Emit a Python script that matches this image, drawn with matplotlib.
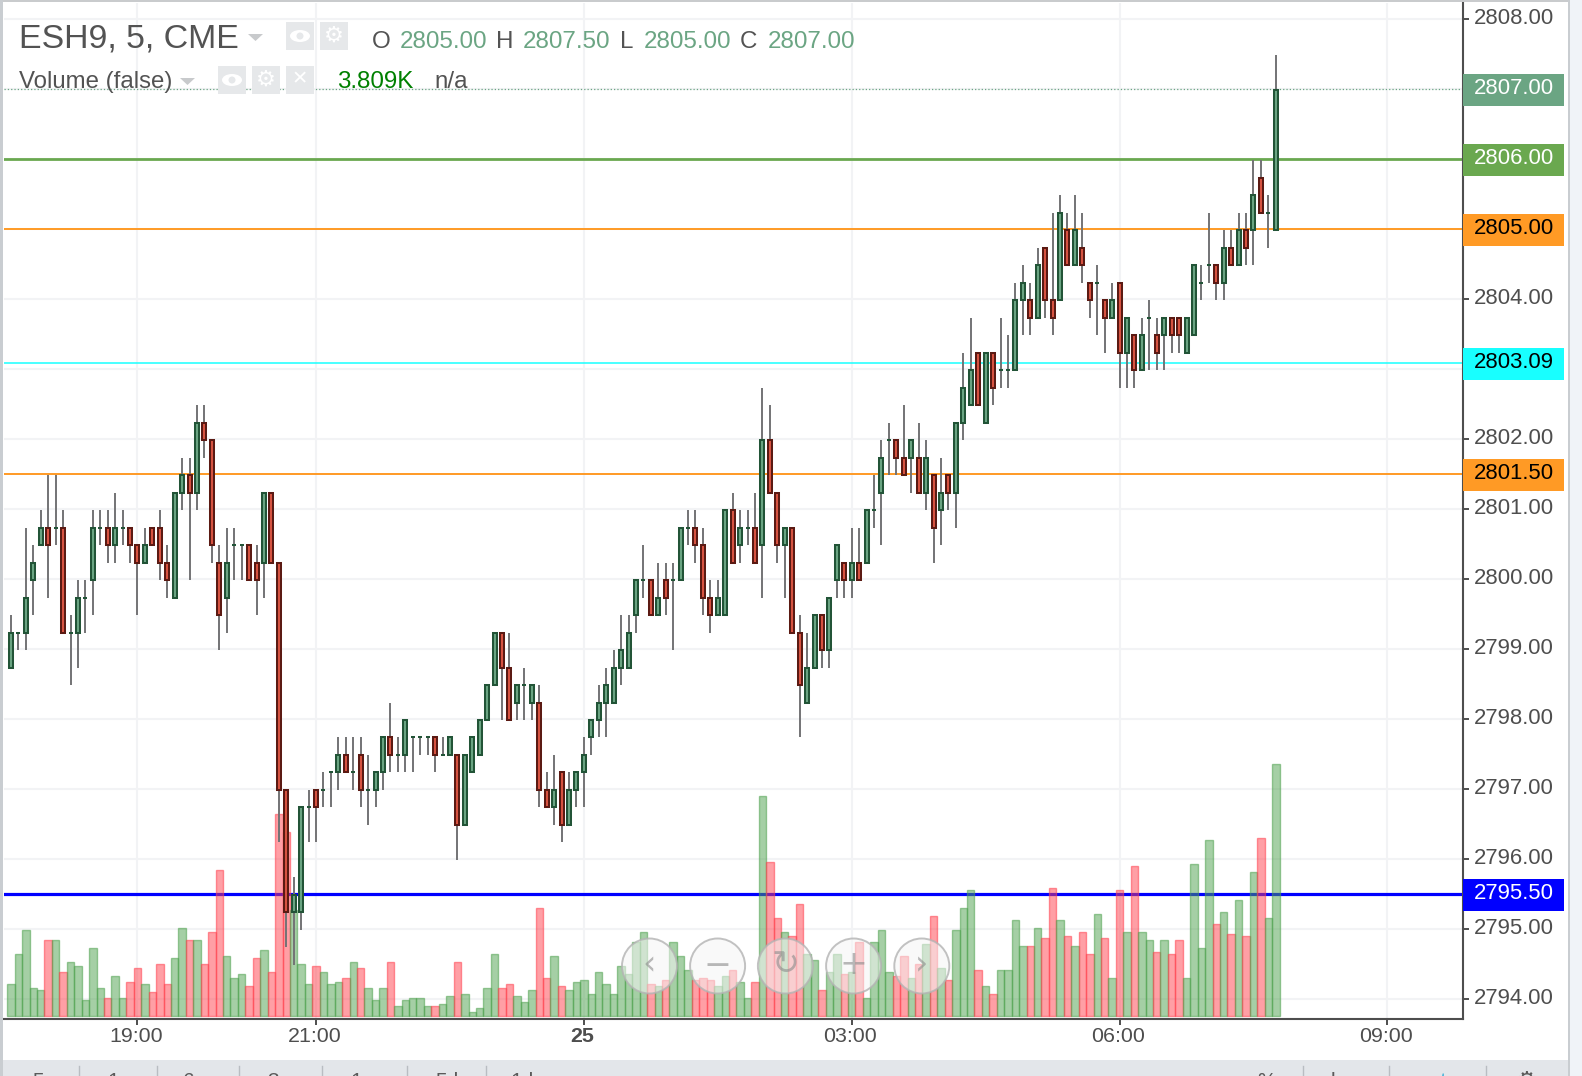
import matplotlib
matplotlib.use("Agg")
import matplotlib.pyplot as plt
from matplotlib.patches import Rectangle, Circle, Polygon, Ellipse
from matplotlib.transforms import ScaledTranslation

plt.rcParams["font.family"] = ["Liberation Sans", "DejaVu Sans"]

##data##

opens = [
    2798.75, 2799.25, 2799.25, 2800, 2800.5, 2800.75, 2800.75, 2800.75, 2799.25, 2799.25,
    2799.75, 2800, 2800.75, 2800.75, 2800.5, 2800.75, 2800.75, 2800.5, 2800.25, 2800.75,
    2800.75, 2800.25, 2799.75, 2801.25, 2801.5, 2801.25, 2802.25, 2802, 2800.25, 2799.75,
    2800.5, 2800.5, 2800.5, 2800.25, 2800.25, 2801.25, 2800.25, 2797, 2795.25, 2795.25,
    2796.75, 2797, 2797, 2797.25, 2797.25, 2797.5, 2797.25, 2797.5, 2797, 2797,
    2797.25, 2797.75, 2797.5, 2797.5, 2797.75, 2797.75, 2797.75, 2797.75, 2797.5, 2797.5,
    2797.5, 2796.5, 2797.25, 2797.5, 2798, 2798.5, 2799.25, 2798.75, 2798.25, 2798.5,
    2798.25, 2798.25, 2797, 2796.75, 2797.25, 2796.5, 2797, 2797.25, 2797.75, 2798,
    2798.25, 2798.25, 2798.75, 2798.75, 2799.5, 2800, 2800, 2799.5, 2800, 2800,
    2800, 2800.75, 2800.75, 2800.5, 2799.75, 2799.5, 2799.5, 2801, 2800.5, 2800.75,
    2800.75, 2800.5, 2802, 2801.25, 2800.5, 2800.75, 2799.25, 2798.25, 2798.75, 2799.5,
    2799, 2800, 2800.25, 2800, 2800.25, 2800.25, 2801, 2801.25, 2802, 2802,
    2801.75, 2801.75, 2801.75, 2801.25, 2801.5, 2801, 2801.5, 2801.25, 2802.25, 2802.5,
    2803.25, 2802.25, 2803.25, 2803, 2803, 2803, 2804, 2804, 2803.75, 2804.75,
    2804, 2804, 2805, 2804.5, 2804.75, 2804.25, 2804.25, 2804, 2803.75, 2804.25,
    2803.25, 2803.5, 2803, 2803.75, 2803.5, 2803.5, 2803.75, 2803.75, 2803.25, 2803.5,
    2804.25, 2804.5, 2804.5, 2804.25, 2804.75, 2804.5, 2805, 2805, 2805.75, 2805.25, 2805,
]
closes = [
    2799.25, 2799.25, 2799.75, 2800.25, 2800.75, 2800.5, 2800.75, 2799.25, 2799.25, 2799.75,
    2799.75, 2800.75, 2800.75, 2800.5, 2800.75, 2800.75, 2800.5, 2800.25, 2800.5, 2800.5,
    2800.25, 2800, 2801.25, 2801.5, 2801.25, 2802.25, 2802, 2800.5, 2799.5, 2800.25,
    2800.5, 2800.5, 2800, 2800, 2801.25, 2800.25, 2797, 2795.25, 2795.5, 2796.75,
    2796.75, 2796.75, 2797, 2797.25, 2797.5, 2797.25, 2797.25, 2797, 2797, 2797.25,
    2797.75, 2797.5, 2797.5, 2798, 2797.75, 2797.75, 2797.75, 2797.5, 2797.5, 2797.75,
    2796.5, 2797.5, 2797.75, 2798, 2798.5, 2799.25, 2798.75, 2798, 2798.5, 2798.5,
    2798.5, 2797, 2796.75, 2797, 2796.5, 2797, 2797.25, 2797.5, 2798, 2798.25,
    2798.5, 2798.75, 2799, 2799.25, 2800, 2800, 2799.5, 2799.75, 2799.75, 2800,
    2800.75, 2800.75, 2800.5, 2799.75, 2799.5, 2799.75, 2801, 2800.25, 2800.75, 2800.75,
    2800.25, 2802, 2801.25, 2800.5, 2800.75, 2799.25, 2798.5, 2798.75, 2799.5, 2799,
    2799.75, 2800.5, 2800, 2800.25, 2800, 2801, 2801, 2801.75, 2802, 2801.75,
    2801.5, 2802, 2801.25, 2801.75, 2800.75, 2801.25, 2801.25, 2802.25, 2802.75, 2803,
    2802.5, 2803.25, 2802.75, 2803, 2803, 2804, 2804.25, 2803.75, 2804.5, 2804,
    2803.75, 2805.25, 2804.5, 2805, 2804.5, 2804, 2804.25, 2803.75, 2804, 2803.25,
    2803.75, 2803, 2803.5, 2803.75, 2803.25, 2803.75, 2803.5, 2803.5, 2803.75, 2804.5,
    2804.25, 2804.5, 2804.25, 2804.75, 2804.5, 2805, 2804.75, 2805.5, 2805.25, 2805.25, 2807,
]
highs = [
    2799.5, 2799.25, 2800.75, 2800.5, 2801, 2801.5, 2801.5, 2801, 2799.5, 2800,
    2800, 2801, 2801, 2801, 2801.25, 2801, 2800.75, 2800.5, 2800.75, 2800.75,
    2801, 2800.5, 2801.25, 2801.75, 2801.75, 2802.5, 2802.5, 2802, 2800.5, 2800.75,
    2800.75, 2800.5, 2800.5, 2800.5, 2801.25, 2801.25, 2800.25, 2797, 2795.75, 2796.75,
    2797, 2797, 2797.25, 2797.25, 2797.75, 2797.75, 2797.75, 2797.75, 2797.5, 2797.25,
    2797.75, 2798.25, 2797.75, 2798, 2797.75, 2797.75, 2797.75, 2797.75, 2797.75, 2797.75,
    2797.5, 2797.5, 2797.75, 2798, 2798.5, 2799.25, 2799.25, 2799.25, 2798.5, 2798.75,
    2798.5, 2798.5, 2797.25, 2797.5, 2797.25, 2797.25, 2797.25, 2797.75, 2798, 2798.5,
    2798.75, 2799, 2799.5, 2799.5, 2800, 2800.5, 2800, 2800.25, 2800.25, 2800.25,
    2800.75, 2801, 2801, 2800.75, 2800, 2800, 2801, 2801.25, 2801, 2801,
    2801.25, 2802.75, 2802.5, 2801.25, 2800.75, 2800.75, 2799.5, 2799.25, 2799.5, 2799.5,
    2799.75, 2800.5, 2800.25, 2800.75, 2800.75, 2801, 2801.5, 2802, 2802.25, 2802,
    2802.5, 2802, 2802.25, 2802, 2801.5, 2801.75, 2801.5, 2802.25, 2803.25, 2803.75,
    2803.25, 2803.25, 2803.25, 2803.75, 2803.5, 2804.25, 2804.5, 2804.25, 2804.75, 2804.75,
    2805.25, 2805.5, 2805.25, 2805.5, 2805.25, 2804.25, 2804.5, 2804, 2804.25, 2804.25,
    2803.75, 2803.5, 2803.75, 2804, 2803.75, 2803.75, 2803.75, 2803.75, 2803.75, 2804.5,
    2804.5, 2805.25, 2804.5, 2805, 2805, 2805.25, 2805.25, 2806, 2806, 2805.5, 2807.5,
]
lows = [
    2798.75, 2799, 2799, 2799.5, 2800.5, 2799.75, 2800.5, 2799.25, 2798.5, 2798.75,
    2799.25, 2799.5, 2800.5, 2800.25, 2800.25, 2800.5, 2800.25, 2799.5, 2800.25, 2800.5,
    2800, 2799.75, 2799.75, 2801, 2800, 2801, 2801.75, 2800.25, 2799, 2799.25,
    2800, 2800, 2800, 2799.5, 2799.75, 2800.25, 2796.25, 2794.75, 2794.5, 2795,
    2796.25, 2796.25, 2796.75, 2796.75, 2797, 2797.25, 2797, 2796.75, 2796.5, 2796.75,
    2797, 2797.25, 2797.25, 2797.25, 2797.25, 2797.5, 2797.5, 2797.25, 2797.5, 2797.5,
    2796, 2796.5, 2797.25, 2797.5, 2798, 2798.5, 2798, 2798, 2798, 2798,
    2798, 2796.75, 2796.75, 2796.5, 2796.25, 2796.5, 2796.75, 2796.75, 2797.5, 2797.75,
    2797.75, 2798.25, 2798.5, 2798.75, 2799.25, 2799.75, 2799.5, 2799.5, 2799.5, 2799,
    2800, 2800.5, 2800.25, 2799.5, 2799.25, 2799.5, 2799.5, 2800.25, 2800.25, 2800.5,
    2800.25, 2799.75, 2801.25, 2800.25, 2799.75, 2799.25, 2797.75, 2798.25, 2798.75, 2798.75,
    2798.75, 2799.75, 2799.75, 2799.75, 2800, 2800.25, 2800.75, 2800.5, 2801.5, 2801.5,
    2801.5, 2801.25, 2801.25, 2801, 2800.25, 2800.5, 2801, 2800.75, 2802, 2802.5,
    2802.5, 2802.25, 2802.5, 2802.75, 2802.75, 2803, 2803.5, 2803.5, 2803.75, 2803.75,
    2803.5, 2804, 2804.5, 2804.5, 2804.25, 2803.75, 2803.5, 2803.25, 2803.75, 2802.75,
    2802.75, 2802.75, 2803, 2803, 2803, 2803, 2803.25, 2803.25, 2803.25, 2803.5,
    2804, 2804.25, 2804, 2804, 2804.5, 2804.5, 2804.5, 2804.5, 2805.25, 2804.75, 2805,
]
volumes = [
    479, 933, 1297, 419, 388, 1145, 1145, 661, 812, 752,
    237, 1024, 419, 267, 600, 267, 510, 721, 479, 358,
    782, 479, 873, 1327, 1145, 1145, 782, 1266, 2205, 903,
    570, 631, 449, 873, 994, 661, 3052, 2780, 1604, 782,
    479, 752, 661, 479, 510, 570, 812, 721, 419, 237,
    419, 812, 146, 237, 267, 267, 146, 146, 177, 298,
    812, 328, 55, 116, 419, 933, 419, 479, 298, 207,
    388, 1630, 570, 903, 449, 388, 510, 540, 328, 661,
    479, 328, 752, 631, 1115, 1266, 479, 449, 540, 1115,
    903, 691, 540, 570, 540, 449, 600, 691, 510, 267,
    510, 3325, 2326, 1478, 1266, 1206, 1690, 933, 843, 388,
    661, 933, 631, 661, 1115, 267, 1115, 1297, 661, 600,
    903, 570, 782, 1085, 1508, 721, 540, 1297, 1630, 1902,
    691, 449, 328, 691, 691, 1448, 1054, 1054, 1327, 1175,
    1932, 1448, 1206, 1054, 1266, 933, 1539, 1175, 570, 1902,
    1266, 2265, 1266, 1145, 964, 1145, 933, 1145, 570, 2295,
    1024, 2659, 1387, 1569, 1236, 1751, 1206, 2174, 2689, 1478, 3809,
]

price_ticks = list(range(2794, 2809))
hidden_ticks = [2803, 2805, 2806, 2807]
time_ticks = [17, 41, 77, 113, 149, 185]
time_labels = ["19:00", "21:00", "25", "03:00", "06:00", "09:00"]

level_prices = [2806, 2805, 2803.09, 2801.5, 2795.5]
level_colors = ["#6aa84f", "#ff9a25", "#18ffff", "#ff9a25", "#0000ff"]
level_widths = [2.0, 1.4, 1.1, 1.4, 2.3]
level_text = ["white", "black", "black", "black", "white"]

last_price = 2807
ranges = ["5y", "1y", "6m", "3m", "1m", "5d", "1d"]

##figure##

W, H = 1582, 1076
fig = plt.figure(figsize=(W / 100, H / 100), dpi=100, facecolor="white")
rect = [4 / W, 1 - 1018.5 / H, 1459 / W, 1015.5 / H]
# the candles sit a pixel or so under the grid in the original
rect_c = [4 / W, 1 - 1019.8 / H, 1459 / W, 1015.5 / H]

ax = fig.add_axes(rect, zorder=1)
ax_vol = fig.add_axes(rect, zorder=2, facecolor="none")
ax_c = fig.add_axes(rect_c, zorder=3, facecolor="none")

xlim = (-7 / 7.44, 1452 / 7.44)
ylim = (2808 - 999.5 / 69.97, 2808 + 16 / 69.97)
for a in [ax, ax_c]:
    a.set_xlim(xlim)
    a.set_ylim(ylim)
ax_vol.set_xlim(xlim)
ax_vol.set_ylim(-38, 15306)
ax_vol.axis("off")
ax_c.axis("off")

x = list(range(len(opens)))

##base axes: grid, level lines, ticks##

ax.set_axisbelow(True)
ax.grid(True, color="#f2f3f5", lw=1.5)
for side in ["top", "left"]:
    ax.spines[side].set_visible(False)
for side in ["right", "bottom"]:
    ax.spines[side].set_color("#4e4e4e")
    ax.spines[side].set_linewidth(1.5)

ax.yaxis.tick_right()
ax.set_yticks(price_ticks)
ax.set_yticklabels(["" if p in hidden_ticks else "%.2f" % p for p in price_ticks])
ax.set_xticks(time_ticks)
ax.set_xticklabels(time_labels)
ax.tick_params(axis="y", length=4.5, width=1.4, color="#4e4e4e", labelcolor="#4e4e4e", labelsize=15.9, pad=3.5)
ax.tick_params(axis="x", length=4, width=1.4, color="#4e4e4e", labelcolor="#4e4e4e", labelsize=15.4, pad=2)
ax.get_xticklabels()[2].set_fontweight("bold")
up = ScaledTranslation(0, 3 / 100, fig.dpi_scale_trans)
for lab in ax.get_yticklabels():
    lab.set_transform(lab.get_transform() + up)
left = ScaledTranslation(-1.5 / 100, 0, fig.dpi_scale_trans)
for lab in ax.get_xticklabels():
    lab.set_transform(lab.get_transform() + left)

ax.axhline(last_price, color="#6ba583", lw=0.9, ls=":")
for p, c, lw in zip(level_prices, level_colors, level_widths):
    ax.axhline(p, color=c, lw=lw)

##volume##

bar_green = (0.30, 0.63, 0.30, 0.5)
bar_red = (1.0, 0.25, 0.30, 0.5)
edge_green = (0.30, 0.63, 0.30, 0.55)
edge_red = (1.0, 0.25, 0.30, 0.55)
ups = [c >= o for o, c in zip(opens, closes)]
ax_vol.bar(x, volumes, width=1.0,
           color=[bar_green if u else bar_red for u in ups],
           edgecolor=[edge_green if u else edge_red for u in ups], linewidth=1.0)

##candles##

ax_c.vlines(x, lows, highs, color="#737375", lw=1.4, zorder=2)
ax_c.bar(x, [c - o for o, c in zip(opens, closes)], bottom=opens, width=0.54,
         color=["#6ba583" if u else "#d75442" for u in ups],
         edgecolor=["#225437" if u else "#5b1a13" for u in ups], linewidth=1.45, zorder=3)

##price tags##

tag_w = 101 / 1459
tag_h = 32 / 69.97
tag_prices = [last_price] + level_prices
tag_colors = ["#6ba583"] + level_colors
tag_text = ["white"] + level_text
trans = ax.get_yaxis_transform()
for p, c, tc in zip(tag_prices, tag_colors, tag_text):
    ax.add_patch(Rectangle((1.0, p - tag_h / 2 - 1 / 69.97), tag_w, tag_h, transform=trans,
                           facecolor=c, edgecolor="none", clip_on=False, zorder=5))
    ax.annotate("%.2f" % p, xy=(1.0, p), xycoords=trans, xytext=(7.6, 0.3), textcoords="offset points",
                color=tc, fontsize=15.9, va="center", ha="left", zorder=6, annotation_clip=False)

##page furniture, in pixels##

ov = fig.add_axes([0, 0, 1, 1], zorder=5, facecolor="none")
ov.set_xlim(0, W)
ov.set_ylim(H, 0)
ov.axis("off")

ov.add_patch(Rectangle((0, 0), 1569, 2, facecolor="#c9cbcd", edgecolor="none"))
ov.add_patch(Rectangle((0, 0), 3, H, facecolor="#c9cdd1", edgecolor="none"))
ov.add_patch(Rectangle((1568, 0), 2, H, facecolor="#c9cdd1", edgecolor="none"))
ov.add_patch(Rectangle((1570, 0), 12, H, facecolor="#f0f3f8", edgecolor="none"))
ov.add_patch(Rectangle((3, 1060), 1565, 16, facecolor="#e3e6ea", edgecolor="none"))

tool_x = [43, 118, 198, 282, 365, 447, 522]
for tx, r in zip(tool_x, ranges):
    ov.text(tx, 1072, r, fontsize=15, color="#5a5a5a", ha="center", va="top", clip_on=True)
for sx in [79, 157, 239, 322, 407, 486, 1303, 1389, 1486]:
    ov.plot([sx, sx], [1066, 1076], color="#b9bdc2", lw=1)
ov.text(1267, 1072, "%", fontsize=15, color="#5a5a5a", ha="center", va="top", clip_on=True)
ov.text(1345, 1072, "log", fontsize=15, color="#5a5a5a", ha="center", va="top", clip_on=True)
ov.text(1438, 1072, "auto", fontsize=15, color="#45b3d9", ha="center", va="top", clip_on=True)
ov.text(1527, 1071, "\u2699", fontsize=16, color="#5a5a5a", ha="center", va="top", clip_on=True)

##legend header##

dark = "#535353"
val = "#6ba583"
ov.text(19, 39, "ESH9, 5, CME", fontsize=24.4, color=dark, va="center", ha="left")
ov.add_patch(Polygon([[248, 34], [263, 34], [255.5, 41]], facecolor="#c8cacc", edgecolor="none"))

for bx, by in [(286, 22), (320, 22), (218, 66), (252, 66), (286, 66)]:
    ov.add_patch(Rectangle((bx, by), 28, 28, facecolor="#e6e8ea", edgecolor="none"))
for cx, cy in [(300, 36), (232, 80)]:
    ov.add_patch(Ellipse((cx, cy), 20, 12, facecolor="white", edgecolor="none"))
    ov.add_patch(Circle((cx, cy), 3.5, facecolor="#e6e8ea", edgecolor="none"))
ov.text(334, 36, "\u2699", fontsize=16, color="white", ha="center", va="center")
ov.text(266, 80, "\u2699", fontsize=16, color="white", ha="center", va="center")
ov.text(300, 80, "\u2715", fontsize=14, color="white", ha="center", va="center")

ohlc_letters = ["O", "H", "L", "C"]
ohlc_letter_x = [372, 496, 620, 740]
ohlc_vals = ["2805.00", "2807.50", "2805.00", "2807.00"]
ohlc_val_x = [400, 523, 644, 768]
for t, tx in zip(ohlc_letters, ohlc_letter_x):
    ov.text(tx, 41.5, t, fontsize=17.4, color=dark, va="center", ha="left")
for t, tx in zip(ohlc_vals, ohlc_val_x):
    ov.text(tx, 41.5, t, fontsize=17.4, color=val, va="center", ha="left")

ov.text(19, 82, "Volume (false)", fontsize=17.3, color=dark, va="center", ha="left")
ov.add_patch(Polygon([[180, 78], [195, 78], [187.5, 85]], facecolor="#c8cacc", edgecolor="none"))
ov.text(337, 82, "3.809K", fontsize=17.4, color="#008000", va="center", ha="left")
ov.text(434, 82, "n/a", fontsize=17.4, color=dark, va="center", ha="left")

##scroll buttons##

btn_x = [649.5, 717.6, 785.4, 853.6, 921.8]
btn_icons = ["\u2039", "\u2212", "\u21bb", "+", "\u203a"]
for bx, icon in zip(btn_x, btn_icons):
    ov.add_patch(Circle((bx, 966), 27.5, facecolor=(0.96, 0.96, 0.96, 0.55),
                        edgecolor=(0.7, 0.7, 0.7, 0.8), lw=1.4))
    ov.text(bx, 965, icon, fontsize=24, color=(0.55, 0.55, 0.55, 0.6), ha="center", va="center",
            family=["DejaVu Sans"])

fig.savefig("out.png", dpi=100)
